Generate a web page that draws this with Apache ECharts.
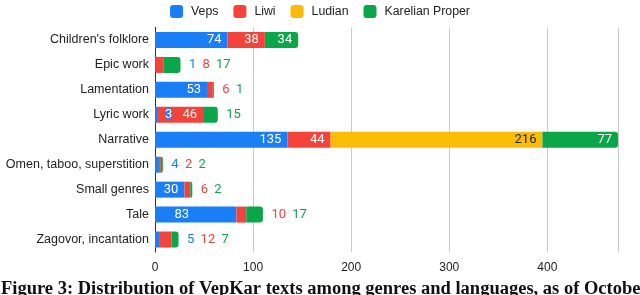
<!DOCTYPE html>
<html><head><meta charset="utf-8">
<script src="https://cdn.jsdelivr.net/npm/echarts@6/dist/echarts.min.js"></script>
<style>html,body{margin:0;padding:0;background:#fff}#c{width:640px;height:295px}</style>
</head><body><div id="c"></div>
<script>
var categories = ["Children's folklore","Epic work","Lamentation","Lyric work","Narrative","Omen, taboo, superstition","Small genres","Tale","Zagovor, incantation"];
var seriesNames = ["Veps","Liwi","Ludian","Karelian Proper"];
var veps     = [74, 1, 53, 3, 135, 4, 30, 83, 5];
var liwi     = [38, 8, 6, 46, 44, 2, 6, 10, 12];
var ludian   = [0, 0, 0, 0, 216, 0, 0, 0, 0];
var karelian = [34, 17, 1, 15, 77, 2, 2, 17, 7];
var xTicks = [0, 100, 200, 300, 400];
var colors = ['#1a7ff6', '#f4433a', '#fbbc05', '#0aa64a'];
var caption = 'Figure 3: Distribution of VepKar texts among genres and languages, as of October 2018';

var values = [veps, liwi, ludian, karelian];
var INSIDE = 20;
var keys = ['a','b','c','d'];
function outsideText(i){
  var parts = [];
  for (var s = 0; s < 4; s++) {
    var v = values[s][i];
    if (v > 0 && v < INSIDE && !(s === 0 && i === 3)) parts.push('{' + keys[s] + '|' + v + '}');
  }
  return parts.join(' ');
}
var rich = {};
for (var k = 0; k < 4; k++) rich[keys[k]] = {color: colors[k], fontSize: 13, fontFamily: 'Roboto', padding: [0, 1.5, 0, 1.5]};

var series = seriesNames.map(function(name, s){
  var data = values[s].map(function(v, i){
    var item = {value: v};
    if (s === 3 && v < INSIDE) {
      item.label = {show: true, position: 'right', distance: 7, formatter: outsideText(i), rich: rich};
    }
    if (s === 0 && i === 3) {
      item.label = {show: true, position: 'insideLeft', offset: [4, 0], color: '#fff', textBorderColor: colors[0], textBorderWidth: 2, formatter: '{c}'};
    }
    if (s === 0 && i === 7) {
      item.label = {show: true, position: 'inside', offset: [-14, 0]};
    }
    return item;
  });
  return {
    name: name, type: 'bar', stack: 'total', barWidth: 16,
    itemStyle: {color: colors[s], borderRadius: s === 3 ? [0, 3, 3, 0] : 0},
    label: {
      show: true, position: 'insideRight', distance: 6,
      color: s === 2 ? '#222' : '#fff', fontSize: 13, fontFamily: 'Roboto',
      formatter: function(p){ return p.value >= INSIDE ? String(p.value) : ''; }
    },
    data: data
  };
});

var chart = echarts.init(document.getElementById('c'), null, {renderer: 'canvas'});
chart.setOption({
  animation: false,
  color: colors,
  legend: {
    data: seriesNames, top: 0, left: 'center', icon: 'roundRect',
    itemWidth: 13, itemHeight: 13, itemGap: 15,
    textStyle: {fontFamily: 'Liberation Sans', fontSize: 12.3, color: '#222', padding: [0, 0, 0, 3]}
  },
  grid: {left: 155, right: 22, top: 27.5, bottom: 43, containLabel: false},
  xAxis: {
    type: 'value', min: 0, max: 'dataMax', interval: 100,
    axisLine: {show: false}, axisTick: {show: false},
    splitLine: {lineStyle: {color: '#cccccc'}},
    axisLabel: {fontFamily: 'Liberation Sans', fontSize: 12, color: '#222', margin: 10, showMaxLabel: false,
      formatter: function(v){ return xTicks.indexOf(v) >= 0 ? String(v) : ''; }}
  },
  yAxis: {
    type: 'category', data: categories, inverse: true,
    axisLine: {lineStyle: {color: '#333', width: 1}}, axisTick: {show: false},
    axisLabel: {fontFamily: 'Liberation Sans', fontSize: 12.5, color: '#222', margin: 6}
  },
  series: series,
  graphic: [{
    type: 'text', left: 1, top: 280,
    style: {text: caption, font: 'bold 18.5px "Liberation Serif"', fill: '#111'}
  }]
});
</script></body></html>
